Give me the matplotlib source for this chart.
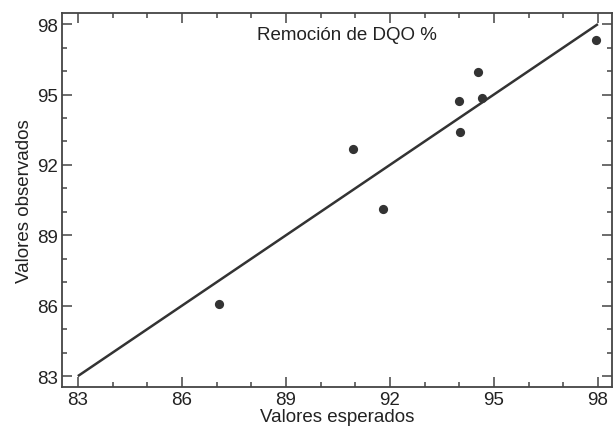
import matplotlib
matplotlib.use("Agg")
import matplotlib.pyplot as plt
from matplotlib.ticker import MultipleLocator

# data
esperados = [87.08, 90.94, 91.81, 93.99, 94.02, 94.54, 94.65, 97.94]
observados = [86.07, 92.68, 90.12, 94.73, 93.40, 95.96, 94.86, 97.33]
linea = [83, 98]
ticks = [83, 86, 89, 92, 95, 98]

plt.rcParams['font.family'] = ['Liberation Sans', 'DejaVu Sans']
dark = '#333333'
fs = 13.5

fig = plt.figure(figsize=(6.13, 4.27), dpi=100)
ax = fig.add_axes([0.101, 0.091, 0.897, 0.876])

ax.plot(linea, linea, color=dark, lw=1.8, solid_capstyle='butt')
ax.scatter(esperados, observados, s=44, color=dark, zorder=3, linewidths=0)

ax.set_xlim(82.54, 98.40)
ax.set_ylim(82.53, 98.47)
ax.set_xticks(ticks)
ax.set_yticks(ticks)
ax.xaxis.set_minor_locator(MultipleLocator(1))
ax.yaxis.set_minor_locator(MultipleLocator(1))
ax.tick_params(which='both', direction='in', top=True, right=True,
               color='#444444', labelsize=fs, labelcolor='#222222', pad=3)
ax.tick_params(which='major', length=7, width=1.1)
ax.tick_params(which='minor', length=3.5, width=1.1)
for s in ax.spines.values():
    s.set_color('#444444')
    s.set_linewidth(1.3)

ax.text(0.518, 0.965, 'Remoción de DQO %', transform=ax.transAxes,
        ha='center', va='top', fontsize=fs, color='#222222')
ax.set_xlabel('Valores esperados', fontsize=fs, labelpad=0, color='#222222')
ax.set_ylabel('Valores observados', fontsize=fs, labelpad=3, color='#222222')

fig.savefig('out.png', dpi=100)
